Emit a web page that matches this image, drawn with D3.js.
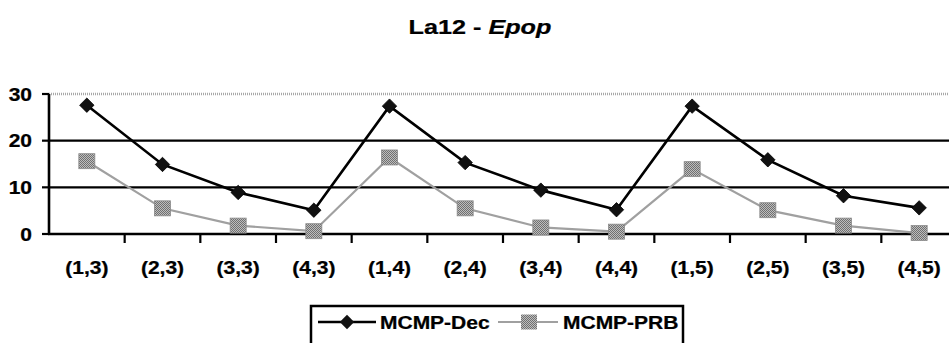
<!DOCTYPE html>
<html>
<head>
<meta charset="utf-8">
<script src="https://cdn.jsdelivr.net/npm/d3@7"></script>
<style>
  html, body { margin: 0; padding: 0; background: #fff; }
  svg { display: block; }
  text { font-family: "Liberation Sans", Arial, Helvetica, sans-serif; font-weight: bold; fill: #000; stroke: #000; stroke-width: 0.25px; }
</style>
</head>
<body>
<svg id="chart" width="949" height="343"></svg>
<script>
// Instance labels (i,j) along the horizontal axis
const categories = ["(1,3)", "(2,3)", "(3,3)", "(4,3)", "(1,4)", "(2,4)", "(3,4)", "(4,4)", "(1,5)", "(2,5)", "(3,5)", "(4,5)"];
// Epop values per method
const mcmpDec = [27.6, 14.9, 8.9, 5.1, 27.4, 15.3, 9.4, 5.2, 27.4, 15.9, 8.2, 5.6];
const mcmpPrb = [15.6, 5.5, 1.8, 0.6, 16.4, 5.5, 1.4, 0.5, 13.9, 5.1, 1.8, 0.2];
const yTicks = [0, 10, 20, 30];
const seriesNames = ["MCMP-Dec", "MCMP-PRB"];

const svg = d3.select("#chart");
const SX = 1.2; // horizontal text stretch

// Dithered grey fill for the square markers
const defs = svg.append("defs");
const pat = defs.append("pattern").attr("id", "dither")
  .attr("width", 2).attr("height", 2).attr("patternUnits", "userSpaceOnUse");
pat.append("rect").attr("width", 2).attr("height", 2).attr("fill", "#bdbdbd");
pat.append("rect").attr("width", 1).attr("height", 1).attr("fill", "#707070");
pat.append("rect").attr("x", 1).attr("y", 1).attr("width", 1).attr("height", 1).attr("fill", "#707070");

function stretchedText(g, x, y, str, anchor, size) {
  return g.append("text")
    .attr("transform", `translate(${x},${y}) scale(${SX},1)`)
    .attr("text-anchor", anchor)
    .style("font-size", size + "px")
    .text(str);
}

const x = d3.scaleBand().domain(categories).range([49, 957]);
const y = d3.scaleLinear().domain([0, 30]).range([234, 94]);
const cx = d => x(d) + x.bandwidth() / 2;

// Title
const title = svg.append("text")
  .attr("transform", `translate(480,34) scale(${SX},1)`)
  .attr("text-anchor", "middle")
  .style("font-size", "21px");
title.append("tspan").text("La12 - ");
title.append("tspan").style("font-style", "italic").text("Epop");

// Horizontal gridlines
svg.append("g").selectAll("line")
  .data(yTicks.filter(t => t > 0))
  .join("line")
  .attr("x1", 49).attr("x2", 949)
  .attr("y1", d => y(d)).attr("y2", d => y(d))
  .attr("stroke", d => d === 30 ? "#a8a8a8" : "#000")
  .attr("stroke-dasharray", d => d === 30 ? "1,1" : null)
  .attr("stroke-width", d => d === 30 ? 2.5 : 2.2);

// Y axis
const yAxis = svg.append("g");
yAxis.append("line")
  .attr("x1", 49).attr("x2", 49)
  .attr("y1", y(30)).attr("y2", y(0) + 1)
  .attr("stroke", "#000").attr("stroke-width", 2.6);
yAxis.selectAll("line.tick")
  .data(yTicks).join("line").attr("class", "tick")
  .attr("x1", 42).attr("x2", 49)
  .attr("y1", d => y(d)).attr("y2", d => y(d))
  .attr("stroke", "#000").attr("stroke-width", 2.2);
yTicks.forEach(t => stretchedText(yAxis, 32, y(t) + 6.5, String(t), "end", 17.5));

// X axis
const xAxis = svg.append("g");
xAxis.append("line")
  .attr("x1", 48).attr("x2", 949)
  .attr("y1", y(0)).attr("y2", y(0))
  .attr("stroke", "#000").attr("stroke-width", 2.6);
xAxis.selectAll("line.tick")
  .data(categories.slice(1)).join("line").attr("class", "tick")
  .attr("x1", d => x(d)).attr("x2", d => x(d))
  .attr("y1", y(0)).attr("y2", y(0) + 9)
  .attr("stroke", "#000").attr("stroke-width", 2.2);
categories.forEach(c => stretchedText(xAxis, cx(c), 274, c, "middle", 17.5));

// Series
const line = d3.line().x((d, i) => cx(categories[i])).y(d => y(d));
const diamond = (px, py, r) => `M${px},${py - r}L${px + r},${py}L${px},${py + r}L${px - r},${py}Z`;

svg.append("path").datum(mcmpPrb)
  .attr("d", line).attr("fill", "none")
  .attr("stroke", "#a0a0a0").attr("stroke-width", 2.2);
svg.append("g").selectAll("rect")
  .data(mcmpPrb).join("rect")
  .attr("x", (d, i) => cx(categories[i]) - 8)
  .attr("y", d => y(d) - 7.5)
  .attr("width", 16).attr("height", 15)
  .attr("fill", "url(#dither)").attr("stroke", "#8a8a8a").attr("stroke-width", 0.8);

svg.append("path").datum(mcmpDec)
  .attr("d", line).attr("fill", "none")
  .attr("stroke", "#000").attr("stroke-width", 2.6);
svg.append("g").selectAll("path")
  .data(mcmpDec).join("path")
  .attr("d", (d, i) => diamond(cx(categories[i]), y(d), 7.2))
  .attr("fill", "#111").attr("stroke", "#000").attr("stroke-width", 0.8);

// Legend
const lg = svg.append("g");
lg.append("rect")
  .attr("x", 311).attr("y", 306).attr("width", 372).attr("height", 44)
  .attr("fill", "#fff").attr("stroke", "#000").attr("stroke-width", 2.5);
lg.append("line").attr("x1", 318).attr("x2", 376).attr("y1", 322).attr("y2", 322)
  .attr("stroke", "#000").attr("stroke-width", 2.6);
lg.append("path").attr("d", diamond(347, 322, 7.2)).attr("fill", "#111");
stretchedText(lg, 380, 328.5, seriesNames[0], "start", 17.5);
lg.append("line").attr("x1", 498).attr("x2", 558).attr("y1", 322).attr("y2", 322)
  .attr("stroke", "#a0a0a0").attr("stroke-width", 2.2);
lg.append("rect").attr("x", 521).attr("y", 314.5).attr("width", 16).attr("height", 15)
  .attr("fill", "url(#dither)");
stretchedText(lg, 563, 328.5, seriesNames[1], "start", 17.5);
</script>
</body>
</html>
